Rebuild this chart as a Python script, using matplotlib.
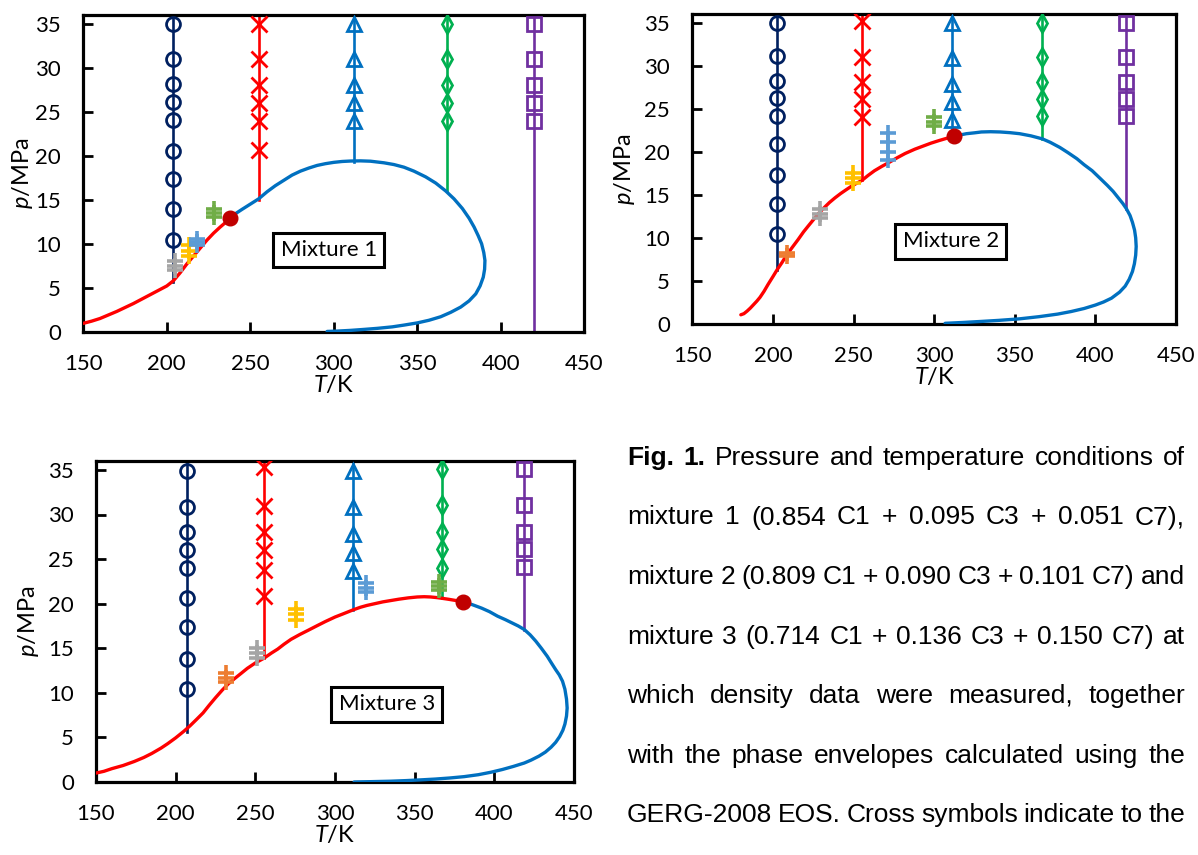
import matplotlib
matplotlib.use("Agg")
import matplotlib.pyplot as plt

plt.rcParams['font.family'] = ['Lato', 'DejaVu Sans']
plt.rcParams['mathtext.fontset'] = 'custom'
plt.rcParams['mathtext.it'] = 'Lato:italic'
plt.rcParams['mathtext.rm'] = 'Lato'

# ---------------- Mixture 1 ----------------
m1_iso_T = [204.0, 255.5, 311.8, 367.6, 419.8]
m1_iso_pmin = [5.7, 15.0, 19.3, 16.0, 0.0]
m1_iso_p = [
    [35.0, 31.0, 28.1, 26.1, 24.1, 20.5, 17.4, 13.9, 10.4],
    [35.0, 31.0, 28.0, 26.0, 24.0, 20.6],
    [35.0, 31.0, 28.0, 26.0, 24.0],
    [35.0, 31.0, 28.0, 26.0, 24.0],
    [35.0, 31.0, 28.0, 26.0, 24.0],
]
m1_bub_T = [150, 155, 160, 165, 170, 175, 180, 185, 190, 195, 200, 204, 208, 212, 216,
            220, 224, 228, 232, 236, 238]
m1_bub_p = [0.95, 1.2, 1.5, 1.9, 2.3, 2.75, 3.2, 3.7, 4.2, 4.7, 5.2, 5.8, 6.7, 7.7, 8.6,
            9.5, 10.4, 11.2, 11.9, 12.55, 12.9]
m1_dew_T = [238, 241, 245, 250, 255, 260, 265, 270, 275, 280, 285, 290, 295, 300, 305, 310,
            316, 322, 330, 336, 342, 348, 355, 361, 367, 372, 377, 381, 384, 386.5, 388.5,
            389.8, 390.5, 390.3, 389.5, 387.6, 385, 381, 376, 370, 364, 357, 350, 342, 335,
            326, 318, 310, 302, 296]
m1_dew_p = [12.9, 13.4, 13.9, 14.5, 15.1, 15.9, 16.6, 17.2, 17.8, 18.25, 18.6, 18.9, 19.1,
            19.25, 19.35, 19.4, 19.42, 19.38, 19.2, 19.0, 18.7, 18.25, 17.6, 16.9, 16.0, 15.1,
            14.0, 12.9, 11.9, 10.9, 10.0, 9.0, 8.1, 7.1, 6.2, 5.2, 4.3, 3.5, 2.8, 2.2, 1.7,
            1.3, 1.0, 0.75, 0.55, 0.38, 0.26, 0.15, 0.07, 0.03]
m1_crit = (238.0, 12.9)
m1_cross_T = [205.0, 213.0, 218.0, 228.2]
m1_cross_p = [[7.0, 7.5, 8.0], [8.6, 9.2, 9.8], [9.9, 10.2, 10.5], [13.0, 13.5, 14.0]]
m1_cross_col = ['#A5A5A5', '#FFC000', '#5B9BD5', '#70AD47']

# ---------------- Mixture 2 ----------------
m2_iso_T = [202.6, 255.4, 310.8, 367.1, 419.2]
m2_iso_pmin = [6.3, 16.7, 22.0, 21.5, 13.4]
m2_iso_p = [
    [35.0, 31.1, 28.2, 26.2, 24.2, 20.9, 17.3, 13.9, 10.4],
    [35.2, 31.0, 28.1, 26.1, 24.0],
    [35.0, 30.9, 27.9, 25.8, 23.7],
    [35.0, 31.0, 28.1, 26.1, 24.1],
    [35.0, 31.0, 28.1, 26.1, 24.2],
]
m2_bub_T = [180.1, 182, 184, 186, 188, 190, 192, 194.5, 197, 200, 202.6, 205.5, 208.5, 212,
            215.6, 219, 222, 225.5, 228.6, 232, 235, 238.5, 242, 245.5, 248.7, 252, 255.4,
            259, 263, 267.5, 272.4, 277, 282, 288, 293.7, 298, 303, 307.5, 312.2]
m2_bub_p = [1.07, 1.2, 1.5, 1.85, 2.25, 2.65, 3.1, 3.8, 4.6, 5.5, 6.3, 7.1, 8.0, 8.9,
            9.8, 10.7, 11.4, 12.2, 12.9, 13.55, 14.1, 14.65, 15.15, 15.6, 16.0, 16.35, 16.7,
            17.25, 17.8, 18.3, 18.8, 19.3, 19.8, 20.3, 20.7, 21.0, 21.3, 21.55, 21.8]
m2_dew_T = [312.2, 316, 320, 325, 329.3, 335, 341, 347, 353, 360, 367.1, 372, 378, 383,
            388.5, 393, 398, 403, 407.4, 411, 414, 417, 419.2, 421.5, 423, 424.3, 425, 425.3,
            425, 424.2, 423, 421, 418.5, 415, 410, 405, 400, 393, 385, 376.6, 365, 353, 340,
            329.3, 318, 306.8]
m2_dew_p = [21.8, 21.95, 22.1, 22.2, 22.3, 22.33, 22.3, 22.22, 22.1, 21.85, 21.5, 21.1,
            20.5, 19.9, 19.2, 18.5, 17.8, 16.9, 16.1, 15.4, 14.7, 14.0, 13.4, 12.6, 11.8,
            10.9, 10.0, 9.0, 8.0, 7.0, 6.1, 5.2, 4.4, 3.7, 3.0, 2.55, 2.2, 1.8, 1.45, 1.15,
            0.85, 0.6, 0.42, 0.3, 0.18, 0.08]
m2_crit = (312.2, 21.8)
m2_cross_T = [208.5, 229.3, 249.5, 271.6, 299.6]
m2_cross_p = [[7.9, 8.2], [12.3, 12.8, 13.3], [16.4, 16.9, 17.5],
              [19.0, 20.0, 21.1, 22.2], [23.0, 23.5, 24.0]]
m2_cross_col = ['#ED7D31', '#A5A5A5', '#FFC000', '#5B9BD5', '#70AD47']

# ---------------- Mixture 3 ----------------
m3_iso_T = [206.9, 255.6, 311.3, 367.2, 418.8]
m3_iso_pmin = [5.6, 13.9, 19.3, 20.6, 17.1]
m3_iso_p = [
    [34.9, 30.8, 28.0, 26.0, 24.0, 20.6, 17.4, 13.8, 10.4],
    [35.3, 31.0, 28.0, 26.0, 23.8, 20.9],
    [34.9, 30.8, 27.8, 25.7, 23.7],
    [35.1, 31.1, 28.0, 26.1, 24.0],
    [35.1, 31.1, 28.0, 26.1, 24.1],
]
m3_bub_T = [150, 155, 160, 167, 174, 180, 185, 190.8, 195, 200, 205.2, 209, 213, 217.2, 221,
            225, 229.2, 233, 237, 241.2, 245, 250, 255.6, 260, 264, 268, 272.4, 278, 283, 289,
            294, 300, 305, 311.3, 316, 320, 325, 330, 335, 340, 346, 351.6, 356, 360, 364,
            367.2, 371, 376, 380.4]
m3_bub_p = [1.0, 1.2, 1.5, 1.85, 2.3, 2.75, 3.2, 3.8, 4.3, 4.95, 5.7, 6.3, 7.0, 7.75, 8.6,
            9.45, 10.3, 11.0, 11.6, 12.2, 12.75, 13.35, 13.9, 14.45, 14.9, 15.45, 16.0, 16.55,
            17.0, 17.55, 18.0, 18.5, 18.85, 19.3, 19.6, 19.8, 20.0, 20.2, 20.35, 20.5, 20.65,
            20.75, 20.78, 20.75, 20.68, 20.6, 20.5, 20.35, 20.2]
m3_dew_T = [380.4, 386, 392, 397, 402, 407, 411, 415, 418.8, 422.5, 426, 429.5, 433.2, 436,
            438.5, 440.8, 442.8, 444.3, 445.3, 445.7, 445.3, 444.3, 443, 441, 438.5, 435.6,
            432, 428, 423, 418.8, 412, 405, 398, 390, 381, 372, 363, 354, 345, 335, 323, 312]
m3_dew_p = [20.2, 19.9, 19.5, 19.1, 18.6, 18.2, 17.85, 17.5, 17.1, 16.5, 15.8, 15.0, 14.1,
            13.3, 12.6, 12.0, 11.3, 10.4, 9.3, 8.3, 7.4, 6.5, 5.8, 5.1, 4.45, 3.9, 3.35, 2.9,
            2.45, 2.13, 1.75, 1.4, 1.1, 0.82, 0.6, 0.45, 0.33, 0.24, 0.16, 0.09, 0.04, 0.0]
m3_crit = (380.4, 20.2)
m3_cross_T = [231.6, 251.3, 275.3, 319.2, 365.5]
m3_cross_p = [[11.2, 11.7, 12.2], [13.9, 14.5, 15.0], [18.2, 18.8, 19.4],
              [21.3, 21.8, 22.3], [21.5, 22.0, 22.4]]
m3_cross_col = ['#ED7D31', '#A5A5A5', '#FFC000', '#5B9BD5', '#70AD47']

x_ticks = [150, 200, 250, 300, 350, 400, 450]
y_ticks = [0, 5, 10, 15, 20, 25, 30, 35]

caption_lines = [
    "Fig. 1. Pressure and temperature conditions of",
    "mixture 1 (0.854 C1 + 0.095 C3 + 0.051 C7),",
    "mixture 2 (0.809 C1 + 0.090 C3 + 0.101 C7) and",
    "mixture 3 (0.714 C1 + 0.136 C3 + 0.150 C7) at",
    "which density data were measured, together",
    "with the phase envelopes calculated using the",
    "GERG-2008 EOS. Cross symbols indicate to the",
]

iso_colors = ['#002060', '#FF0000', '#0070C0', '#00B050', '#7030A0']
iso_markers = ['o', 'x', '^', 'd', 's']
iso_ms = [10, 11, 10, 9, 10.5]

W, H = 1198, 855
fig = plt.figure(figsize=(W / 100, H / 100), dpi=100)


def px_axes(l, t, r, b):
    return fig.add_axes([l / W, 1 - b / H, (r - l) / W, (b - t) / H])


def draw_panel(ax, iso_T, iso_pmin, iso_p, bub_T, bub_p, dew_T, dew_p, crit,
               cross_T, cross_p, cross_col, label, label_xy, ylabelpad):
    ax.plot(bub_T, bub_p, color='#FF0000', lw=2.4, solid_capstyle='round',
            solid_joinstyle='round', zorder=3)
    ax.plot(dew_T, dew_p, color='#0070C0', lw=2.4, solid_capstyle='round',
            solid_joinstyle='round', zorder=3)
    for T, pmin, ps, c, mk, ms in zip(iso_T, iso_pmin, iso_p, iso_colors, iso_markers, iso_ms):
        ax.plot([T, T], [pmin, 37], color=c, lw=1.9, zorder=2)
        ax.plot([T] * len(ps), ps, ls='none', marker=mk, ms=ms, mfc='none',
                mec=c, mew=2.0, zorder=4)
    for T, ps, c in zip(cross_T, cross_p, cross_col):
        ax.plot([T] * len(ps), ps, ls='none', marker='+', ms=12, mew=2.6, color=c, zorder=4)
    ax.plot([crit[0]], [crit[1]], ls='none', marker='o', ms=10.5, color='#C00000', zorder=5)

    ax.text(label_xy[0], label_xy[1], label, fontsize=16, ha='center', va='center', zorder=6,
            bbox=dict(boxstyle='square,pad=0.33', fc='white', ec='black', lw=2.2))

    ax.set_xlim(150, 450)
    ax.set_ylim(0, 36)
    ax.set_xticks(x_ticks)
    ax.set_yticks(y_ticks)
    ax.tick_params(direction='in', length=7, width=2, labelsize=16, pad=16)
    for s in ax.spines.values():
        s.set_linewidth(2.3)
    ax.set_xlabel(r'$\mathit{T}$/K', fontsize=17, labelpad=0)
    ax.set_ylabel(r'$\mathit{p}$/MPa', fontsize=17, labelpad=ylabelpad)


ax1 = px_axes(83.3, 15, 584.3, 331.7)
draw_panel(ax1, m1_iso_T, m1_iso_pmin, m1_iso_p, m1_bub_T, m1_bub_p, m1_dew_T, m1_dew_p,
           m1_crit, m1_cross_T, m1_cross_p, m1_cross_col, 'Mixture 1', (297, 9.3), 0)

ax2 = px_axes(692.3, 14, 1176, 324)
draw_panel(ax2, m2_iso_T, m2_iso_pmin, m2_iso_p, m2_bub_T, m2_bub_p, m2_dew_T, m2_dew_p,
           m2_crit, m2_cross_T, m2_cross_p, m2_cross_col, 'Mixture 2', (310.3, 9.6), 5)

ax3 = px_axes(96, 461, 574, 782)
draw_panel(ax3, m3_iso_T, m3_iso_pmin, m3_iso_p, m3_bub_T, m3_bub_p, m3_dew_T, m3_dew_p,
           m3_crit, m3_cross_T, m3_cross_p, m3_cross_col, 'Mixture 3', (332.6, 8.7), 5)

# justified caption
renderer = fig.canvas.get_renderer()
x0, x1 = 627, 1185
for i, line in enumerate(caption_lines):
    words = line.split(' ')
    y = 1 - (465 + i * 59.5) / H
    texts = []
    for j, w in enumerate(words):
        bold = (i == 0 and j < 2)
        t = fig.text(0, y, w, fontsize=19, family=['Liberation Sans', 'DejaVu Sans'],
                     weight='bold' if bold else 'normal', va='baseline', ha='left')
        texts.append(t)
    widths = [t.get_window_extent(renderer).width for t in texts]
    gap = (x1 - x0 - sum(widths)) / (len(words) - 1)
    x = x0
    for t, w in zip(texts, widths):
        t.set_x(x / W)
        x += w + gap

fig.savefig('out.png', dpi=100)
